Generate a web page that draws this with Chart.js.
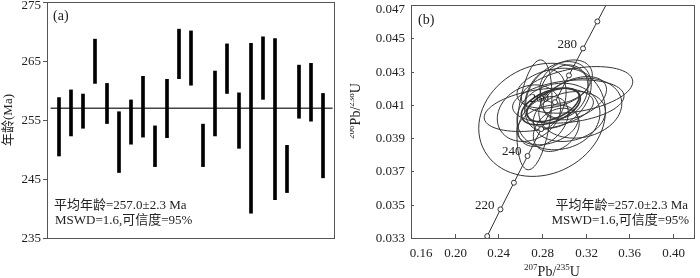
<!DOCTYPE html>
<html>
<head>
<meta charset="utf-8">
<script src="https://cdn.jsdelivr.net/npm/chart.js@4.4.1/dist/chart.umd.min.js"></script>
<style>
  html, body { margin: 0; padding: 0; background: #fff; }
  #wrap { position: relative; width: 700px; height: 278px; overflow: hidden; }
  canvas { position: absolute; top: 0; }
  #leftChart { left: 0; }
  #rightChart { left: 350px; }
</style>
</head>
<body>
<div id="wrap">
  <canvas id="leftChart" width="350" height="278"></canvas>
  <canvas id="rightChart" width="350" height="278"></canvas>
</div>
<script>
// (a) 单颗粒年龄误差棒 (Ma)
const spotNo   = [1, 2, 3, 4, 5, 6, 7, 8, 9, 10, 11, 12, 13, 14, 15, 16, 17, 18, 19, 20, 21, 22, 23];
const ageHigh  = [258.8, 260.1, 259.4, 268.7, 261.2, 256.4, 258.4, 262.4, 254.0, 261.9, 270.4, 270.1,
                  254.3, 263.3, 267.9, 259.6, 268.0, 269.1, 268.8, 250.7, 264.3, 264.6, 259.5];
const ageLow   = [248.9, 252.3, 253.6, 261.2, 254.4, 246.1, 250.9, 252.1, 247.1, 252.0, 262.0, 260.9,
                  247.1, 252.3, 259.5, 250.2, 239.2, 258.5, 241.5, 242.7, 255.3, 254.8, 245.2];
const meanAge  = 257.0;
const ageTicks = [235, 245, 255, 265, 275];

// (b) 谐和图
const conAges = [210, 220, 230, 240, 250, 260, 270, 280, 290, 300];
const conX    = [0.2298, 0.2419, 0.2542, 0.2667, 0.2792, 0.2918, 0.3046, 0.3175, 0.3306, 0.3437];
const conY    = [0.03311, 0.03472, 0.03632, 0.03793, 0.03954, 0.04116, 0.04277, 0.04439, 0.04601, 0.04764];
const conLabeled = [220, 240, 260, 280];

// 误差椭圆: 中心, 半轴 (207/235, 206/238), 相关系数
const ellCx  = [0.280, 0.273, 0.312, 0.304, 0.277, 0.295, 0.290, 0.288, 0.300, 0.285,
                0.305, 0.293, 0.315, 0.283, 0.310, 0.295, 0.281, 0.302, 0.290, 0.268];
const ellCy  = [0.0401, 0.0404, 0.0419, 0.0412, 0.0407, 0.0416, 0.0410, 0.0409, 0.0418, 0.0398,
                0.0403, 0.0395, 0.0408, 0.0413, 0.0414, 0.0403, 0.0400, 0.0424, 0.0420, 0.0405];
const ellSx  = [0.058, 0.016, 0.051, 0.051, 0.050, 0.030, 0.024, 0.027, 0.022, 0.028,
                0.033, 0.021, 0.038, 0.019, 0.029, 0.038, 0.023, 0.024, 0.033, 0.029];
const ellSy  = [0.0034, 0.0033, 0.0014, 0.0013, 0.0013, 0.0020, 0.0010, 0.0011, 0.0016, 0.0012,
                0.0015, 0.0013, 0.0018, 0.0018, 0.0013, 0.0020, 0.0015, 0.0013, 0.0012, 0.0017];
const ellRho = [0.15, 0.35, 0.35, 0.25, 0.35, 0.3, 0.5, 0.45, 0.2, 0.3,
                0.2, 0.3, 0.15, 0.25, 0.4, 0.1, 0.35, 0.3, 0.3, 0.2];
const xTicks = [0.16, 0.20, 0.24, 0.28, 0.32, 0.36, 0.40];
const yTicks = [0.033, 0.035, 0.037, 0.039, 0.041, 0.043, 0.045, 0.047];

const noteLine1 = '平均年龄=257.0±2.3 Ma';
const noteLine2 = 'MSWD=1.6,可信度=95%';

const SERIF = '"Liberation Serif", "Noto Sans CJK SC", serif';
const INK = '#222';
const FRAME = '#555';

function frame(ctx, a) {
    ctx.strokeStyle = FRAME;
    ctx.lineWidth = 1;
    ctx.strokeRect(a.left + 0.5, a.top + 0.5, a.right - a.left - 1, a.bottom - a.top);
}

// 上标文字, 如 206Pb/238U
function supText(ctx, parts, x, y, align) {
    let w = 0;
    parts.forEach(p => { ctx.font = (p.sup ? '9px ' : '14px ') + SERIF; w += ctx.measureText(p.t).width; });
    let cx = align === 'center' ? x - w / 2 : x;
    ctx.textAlign = 'left';
    ctx.textBaseline = 'alphabetic';
    parts.forEach(p => {
        ctx.font = (p.sup ? '9px ' : '14px ') + SERIF;
        ctx.fillText(p.t, cx, p.sup ? y - 6 : y);
        cx += ctx.measureText(p.t).width;
    });
}

const leftDeco = {
    id: 'leftDeco',
    afterDraw(chart) {
        const { ctx, chartArea: a, scales: { y } } = chart;
        ctx.save();
        frame(ctx, a);
        ctx.fillStyle = INK;
        ctx.font = '13px ' + SERIF;
        ctx.textAlign = 'right';
        ctx.textBaseline = 'middle';
        ageTicks.forEach(v => {
            const py = Math.round(y.getPixelForValue(v)) + 0.5;
            ctx.beginPath();
            ctx.moveTo(a.left - 4, py);
            ctx.lineTo(a.left, py);
            ctx.stroke();
            ctx.fillText(String(v), a.left - 6, Math.max(py, a.top + 4));
        });
        // 纵轴标题
        ctx.save();
        ctx.translate(9, (a.top + a.bottom) / 2);
        ctx.rotate(-Math.PI / 2);
        ctx.textAlign = 'center';
        ctx.fillText('年龄(Ma)', 0, 0);
        ctx.restore();
        ctx.textAlign = 'left';
        ctx.font = '14px ' + SERIF;
        ctx.fillText('(a)', a.left + 6, a.top + 14);
        ctx.font = '13px ' + SERIF;
        ctx.fillText(noteLine1, a.left + 7, 206);
        ctx.fillText(noteLine2, a.left + 8, 221);
        ctx.restore();
    }
};

const ellipses = {
    id: 'ellipses',
    beforeDatasetsDraw(chart) {
        const { ctx, chartArea: a, scales: { x, y } } = chart;
        ctx.save();
        ctx.beginPath();
        ctx.rect(a.left, a.top, a.right - a.left, a.bottom - a.top);
        ctx.clip();
        ctx.strokeStyle = '#333';
        ellCx.forEach((cx, i) => {
            const r = ellRho[i], q = Math.sqrt(1 - r * r);
            ctx.lineWidth = r >= 0.45 ? 1.6 : 1;
            ctx.beginPath();
            for (let k = 0; k <= 72; k++) {
                const t = k / 72 * Math.PI * 2;
                const vx = cx + ellSx[i] * Math.cos(t);
                const vy = ellCy[i] + ellSy[i] * (r * Math.cos(t) + q * Math.sin(t));
                const px = x.getPixelForValue(vx), py = y.getPixelForValue(vy);
                k ? ctx.lineTo(px, py) : ctx.moveTo(px, py);
            }
            ctx.stroke();
        });
        ctx.restore();
    }
};

const rightDeco = {
    id: 'rightDeco',
    afterDraw(chart) {
        const { ctx, chartArea: a, scales: { x, y } } = chart;
        ctx.save();
        frame(ctx, a);
        ctx.fillStyle = INK;
        ctx.font = '13px ' + SERIF;
        // 刻度 (朝内)
        ctx.textAlign = 'right';
        ctx.textBaseline = 'middle';
        yTicks.forEach(v => {
            const py = Math.round(y.getPixelForValue(v)) + 0.5;
            ctx.beginPath();
            ctx.moveTo(a.left, py);
            ctx.lineTo(a.left + 3, py);
            ctx.stroke();
            ctx.fillText(v.toFixed(3), a.left - 6, Math.max(py, a.top + 5));
        });
        ctx.textAlign = 'center';
        xTicks.forEach(v => {
            const px = Math.round(x.getPixelForValue(v)) + 0.5;
            ctx.beginPath();
            ctx.moveTo(px, a.bottom);
            ctx.lineTo(px, a.bottom - 4);
            ctx.stroke();
            ctx.fillText(v.toFixed(2), Math.max(px, a.left + 10), a.bottom + 16);
        });
        // 年龄标注
        ctx.textAlign = 'right';
        conLabeled.forEach(age => {
            const i = conAges.indexOf(age);
            const px = x.getPixelForValue(conX[i]), py = y.getPixelForValue(conY[i]);
            ctx.fillText(String(age), px - 6, py - 4);
        });
        ctx.fillText(noteLine1, a.right - 7, 206);
        ctx.fillText(noteLine2, a.right - 6, 221);
        ctx.textAlign = 'left';
        ctx.font = '14px ' + SERIF;
        ctx.fillText('(b)', a.left + 7, a.top + 15);
        // 轴标题
        supText(ctx, [{ t: '207', sup: true }, { t: 'Pb/' }, { t: '235', sup: true }, { t: 'U' }],
                (a.left + a.right) / 2 - 1, 276, 'center');
        ctx.save();
        ctx.translate(10, 111);
        ctx.rotate(-Math.PI / 2);
        supText(ctx, [{ t: '206', sup: true }, { t: 'Pb/' }, { t: '238', sup: true }, { t: 'U' }],
                0, 0, 'center');
        ctx.restore();
        ctx.restore();
    }
};

const hiddenX = {
    type: 'linear', offset: false,
    grid: { display: false }, border: { display: false }, ticks: { display: false },
    afterFit: s => { s.height = 40; }
};

new Chart(document.getElementById('leftChart'), {
    type: 'bar',
    data: {
        datasets: [{
            type: 'bar',
            data: spotNo.map((n, i) => ({ x: n, y: [ageLow[i], ageHigh[i]] })),
            backgroundColor: '#000',
            barThickness: 3,
            borderWidth: 0
        }, {
            type: 'line',
            data: [{ x: 0.3, y: meanAge }, { x: 23.8, y: meanAge }],
            borderColor: '#444',
            borderWidth: 1.5,
            pointRadius: 0
        }]
    },
    options: {
        responsive: false,
        animation: false,
        layout: { padding: { top: 2, right: 15, left: 0, bottom: 0 } },
        scales: {
            x: Object.assign({}, hiddenX, { min: 0, max: 24 }),
            y: {
                min: 235, max: 275,
                grid: { display: false }, border: { display: false }, ticks: { display: false },
                afterFit: s => { s.width = 47; }
            }
        },
        plugins: { legend: { display: false }, tooltip: { enabled: false } }
    },
    plugins: [leftDeco]
});

new Chart(document.getElementById('rightChart'), {
    type: 'scatter',
    data: {
        datasets: [{
            data: conX.map((v, i) => ({ x: v, y: conY[i] })),
            showLine: true,
            borderColor: '#333',
            borderWidth: 1,
            pointRadius: 2.5,
            pointBackgroundColor: '#fff',
            pointBorderColor: '#333',
            pointBorderWidth: 1
        }]
    },
    options: {
        responsive: false,
        animation: false,
        layout: { padding: { top: 1, right: 1, left: 0, bottom: 0 } },
        scales: {
            x: Object.assign({}, hiddenX, { min: 0.16, max: 0.42 }),
            y: {
                min: 0.033, max: 0.047,
                grid: { display: false }, border: { display: false }, ticks: { display: false },
                afterFit: s => { s.width = 61; }
            }
        },
        plugins: { legend: { display: false }, tooltip: { enabled: false } }
    },
    plugins: [ellipses, rightDeco]
});
</script>
</body>
</html>
